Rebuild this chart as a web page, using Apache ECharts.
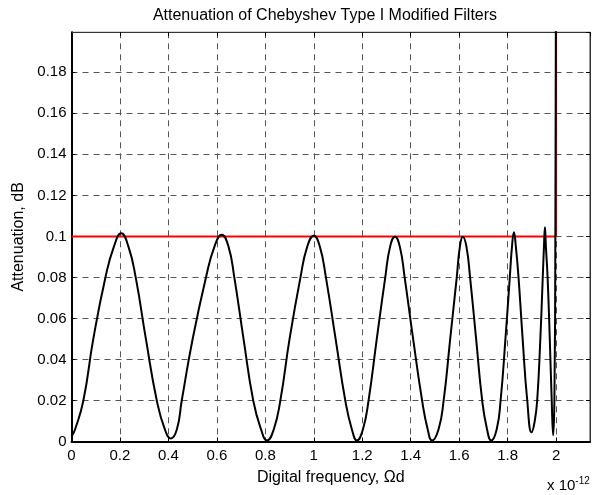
<!DOCTYPE html>
<html>
<head>
<meta charset="utf-8">
<script src="https://cdn.jsdelivr.net/npm/echarts@6/dist/echarts.min.js"></script>
<style>html,body{margin:0;padding:0;background:#fff}#c{width:592px;height:495px}</style>
</head>
<body>
<div id="c"></div>
<script>
// Black attenuation curve (x in units of 1e-12, y in dB)
var attenX = [0, 0.015, 0.049, 0.09, 0.14, 0.175, 0.205, 0.235, 0.265, 0.307, 0.352, 0.385, 0.41,
  0.435, 0.455, 0.50, 0.555, 0.59, 0.62, 0.648, 0.672, 0.71, 0.75, 0.782, 0.807,
  0.835, 0.862, 0.90, 0.945, 0.973, 1.0, 1.025, 1.05, 1.09, 1.13, 1.157, 1.178,
  1.203, 1.226, 1.26, 1.295, 1.315, 1.335, 1.355, 1.375, 1.41, 1.447, 1.47, 1.488,
  1.515, 1.536, 1.563, 1.59, 1.603, 1.615, 1.63, 1.645, 1.67, 1.695, 1.715, 1.732,
  1.755, 1.771, 1.791, 1.809, 1.818, 1.826, 1.834, 1.845, 1.862, 1.881, 1.899,
  1.912, 1.922, 1.935, 1.945, 1.95, 1.954, 1.958, 1.965, 1.974, 1.982, 1.988,
  1.993, 1.997, 2.001];
var attenY = [0.0025, 0.006, 0.02, 0.05, 0.08, 0.095, 0.1015, 0.095, 0.08, 0.05, 0.02, 0.006, 0.0015,
  0.006, 0.02, 0.05, 0.08, 0.095, 0.1008, 0.095, 0.08, 0.05, 0.02, 0.006, 0.0005,
  0.006, 0.02, 0.05, 0.08, 0.095, 0.1003, 0.095, 0.08, 0.05, 0.02, 0.006, 0.0005,
  0.006, 0.02, 0.05, 0.08, 0.095, 0.0998, 0.095, 0.08, 0.05, 0.02, 0.006, 0.0005,
  0.006, 0.02, 0.05, 0.08, 0.095, 0.0998, 0.095, 0.08, 0.05, 0.02, 0.006, 0.0005,
  0.006, 0.02, 0.05, 0.08, 0.095, 0.102, 0.095, 0.08, 0.05, 0.02, 0.0045,
  0.01, 0.02, 0.05, 0.08, 0.095, 0.1045, 0.095, 0.08, 0.05, 0.02, 0.003,
  0.02, 0.1, 0.3];
// Red specification line
var specX = [0, 2, 2];
var specY = [0.1, 0.1, 0.3];
// Axes
var xTicks = [0, 0.2, 0.4, 0.6, 0.8, 1, 1.2, 1.4, 1.6, 1.8, 2];
var yTicks = [0, 0.02, 0.04, 0.06, 0.08, 0.1, 0.12, 0.14, 0.16, 0.18];
var titleText = 'Attenuation of Chebyshev Type I Modified Filters';
var xName = 'Digital frequency, \u03A9d';
var yName = 'Attenuation, dB';

var FONT = '"Liberation Sans", Arial, Helvetica, sans-serif';
var attenData = attenX.map(function (x, i) { return [x, attenY[i]]; });
var specData = specX.map(function (x, i) { return [x, specY[i]]; });
var gridDash = { color: '#555', width: 1, type: [6, 5] };

var chart = echarts.init(document.getElementById('c'), null, { renderer: 'canvas' });
chart.setOption({
  animation: false,
  backgroundColor: '#fff',
  title: {
    text: titleText, left: 320, top: 3, textAlign: 'center',
    textStyle: { fontFamily: FONT, fontSize: 16, fontWeight: 'normal', color: '#000' }
  },
  grid: { left: 71.5, right: 2, top: 32.3, bottom: 53.5, show: true, borderColor: '#333', borderWidth: 1 },
  xAxis: [{
    type: 'value', min: 0, max: 2.14, interval: 0.2,
    axisLine: { show: true, onZero: false, lineStyle: { color: '#000', width: 2 } },
    axisTick: { show: true, inside: true, length: 4, lineStyle: { color: '#000' } },
    axisLabel: { showMaxLabel: false, margin: 7, fontFamily: FONT, fontSize: 15, color: '#000',
      formatter: function (v) { return xTicks.indexOf(Math.round(v * 10) / 10) >= 0 ? String(Math.round(v * 10) / 10) : ''; } },
    splitLine: { show: true, lineStyle: gridDash },
    name: xName, nameLocation: 'middle', nameGap: 28,
    nameTextStyle: { fontFamily: FONT, fontSize: 16, color: '#000' }
  }, {
    type: 'value', position: 'top', min: 0, max: 2.14, interval: 0.2,
    axisLine: { show: true, onZero: false, lineStyle: { color: '#333', width: 1 } },
    axisTick: { show: true, inside: true, length: 4, lineStyle: { color: '#000' } },
    axisLabel: { show: false }, splitLine: { show: false }
  }],
  yAxis: [{
    type: 'value', min: 0, max: 0.1995, interval: 0.02,
    axisLine: { show: true, onZero: false, lineStyle: { color: '#000', width: 2 } },
    axisTick: { show: true, inside: true, length: 4, lineStyle: { color: '#000' } },
    axisLabel: { showMaxLabel: false, margin: 5, fontFamily: FONT, fontSize: 15, color: '#000',
      formatter: function (v) { var r = Math.round(v * 100) / 100; return yTicks.indexOf(r) >= 0 ? String(r) : ''; } },
    splitLine: { show: true, lineStyle: gridDash },
    name: yName, nameLocation: 'middle', nameGap: 45,
    nameTextStyle: { fontFamily: FONT, fontSize: 16, color: '#000' }
  }, {
    type: 'value', position: 'right', min: 0, max: 0.1995, interval: 0.02,
    axisLine: { show: true, onZero: false, lineStyle: { color: '#333', width: 1 } },
    axisTick: { show: true, inside: true, length: 4, lineStyle: { color: '#000' } },
    axisLabel: { show: false }, splitLine: { show: false }
  }],
  graphic: [{
    type: 'text', left: 547, top: 476,
    style: {
      text: 'x 10{s|-12}', fontFamily: FONT, fontSize: 15, fill: '#000',
      rich: { s: { fontSize: 10, verticalAlign: 'top', padding: [0, 0, 9, 0] } }
    }
  }],
  series: [{
    type: 'line', data: specData, showSymbol: false, symbol: 'none', clip: true,
    lineStyle: { color: '#ff0000', width: 2 }, z: 3
  }, {
    type: 'line', data: attenData, showSymbol: false, symbol: 'none', clip: true,
    smooth: 0.5,
    lineStyle: { color: '#000', width: 2 }, z: 4
  }]
});
</script>
</body>
</html>
